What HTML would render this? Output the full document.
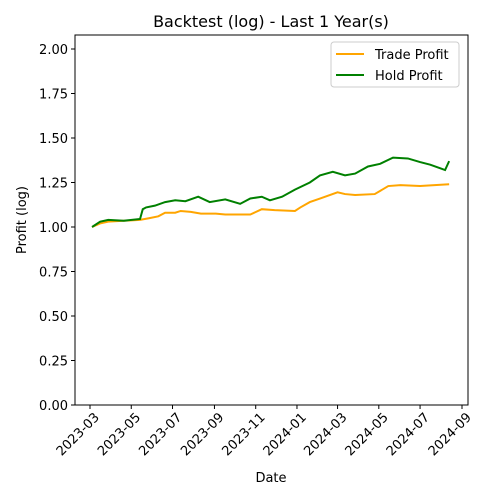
<!DOCTYPE html>
<html><head><meta charset="utf-8"><style>body{margin:0;background:#fff}svg{display:block;font-family:"DejaVu Sans","Liberation Sans",sans-serif}</style></head>
<body>
<svg id="chart" width="500" height="500"></svg>
<script>
const holdDates=["2023-03-04","2023-03-16","2023-03-28","2023-04-20","2023-05-14","2023-05-18","2023-05-23","2023-06-05","2023-06-20","2023-07-05","2023-07-20","2023-08-08","2023-08-25","2023-09-17","2023-10-09","2023-10-24","2023-11-10","2023-11-22","2023-12-10","2023-12-29","2024-01-20","2024-02-04","2024-02-23","2024-03-12","2024-03-27","2024-04-15","2024-05-03","2024-05-22","2024-06-13","2024-07-01","2024-07-16","2024-07-31","2024-08-07","2024-08-13"];
const holdVals=[1.00,1.03,1.04,1.035,1.045,1.10,1.11,1.12,1.14,1.15,1.145,1.17,1.14,1.155,1.13,1.16,1.17,1.15,1.17,1.21,1.25,1.29,1.31,1.29,1.30,1.34,1.355,1.39,1.385,1.365,1.35,1.33,1.32,1.37];
const tradeDates=["2023-03-04","2023-03-16","2023-03-28","2023-05-14","2023-05-28","2023-06-10","2023-06-20","2023-07-05","2023-07-13","2023-07-28","2023-08-12","2023-09-03","2023-09-17","2023-10-24","2023-11-10","2023-11-29","2023-12-29","2024-01-06","2024-01-20","2024-02-04","2024-03-01","2024-03-12","2024-03-27","2024-04-25","2024-05-15","2024-06-02","2024-07-01","2024-08-13"];
const tradeVals=[1.00,1.02,1.03,1.04,1.05,1.06,1.08,1.08,1.09,1.085,1.075,1.075,1.07,1.07,1.10,1.095,1.09,1.11,1.14,1.16,1.195,1.185,1.18,1.185,1.23,1.235,1.23,1.24];
const yTicks=[0,0.25,0.5,0.75,1.0,1.25,1.5,1.75,2.0];
const xTicks=["2023-03","2023-05","2023-07","2023-09","2023-11","2024-01","2024-03","2024-05","2024-07","2024-09"];
const NS="http://www.w3.org/2000/svg",svg=document.getElementById('chart');
const L=75,R=468,T=35,B=405;
const x0=Date.parse("2023-03-01"),x1=Date.parse("2024-09-01");
const X=d=>90+(Date.parse(d)-x0)/(x1-x0)*372;
const Y=v=>405-v*178;
function el(t,a,txt){const e=document.createElementNS(NS,t);for(const k in a)e.setAttribute(k,a[k]);if(txt!=null)e.textContent=txt;svg.appendChild(e);return e;}
let e=el('rect',{x:L,y:T,width:R-L,height:B-T,fill:'none',stroke:'#000','stroke-width':1});


yTicks.forEach(v=>{const y=Y(v);
 let t=el('line',{x1:L-4,x2:L,y1:y,y2:y,stroke:'#000'});
 
 
 let l=el('text',{x:L-7,y:y+5,'text-anchor':'end','font-size':13},v.toFixed(2));
 
 });
xTicks.forEach(s=>{const x=X(s+"-01");
 let t=el('line',{x1:x,x2:x,y1:B,y2:B+4,stroke:'#000'});
 
 
 const ax=x+10,ay=B+13;
 let l=el('text',{x:ax,y:ay,'text-anchor':'end','font-size':13,transform:`rotate(-45 ${ax} ${ay})`},s);
 
 });
function line(d,v,c,n){let p=el('polyline',{points:d.map((s,i)=>X(s)+','+Y(v[i])).join(' '),fill:'none',stroke:c,'stroke-width':2});
 
 }
line(tradeDates,tradeVals,'#ffa500','trade-profit-line');
line(holdDates,holdVals,'#008000','hold-profit-line');
e=el('text',{x:271,y:27,'text-anchor':'middle','font-size':16},'Backtest (log) - Last 1 Year(s)');


e=el('text',{x:271,y:482,'text-anchor':'middle','font-size':13},'Date');


e=el('text',{x:26,y:220,'text-anchor':'middle','font-size':13,transform:'rotate(-90 26 220)'},'Profit (log)');


e=el('rect',{x:331,y:42,width:128,height:45,rx:3,fill:'#fff',stroke:'#ccc'});


[['Trade Profit','#ffa500',54],['Hold Profit','#008000',75]].forEach(([n,c,y])=>{
 let s=el('line',{x1:336,x2:364,y1:y,y2:y,stroke:c,'stroke-width':2});
 
 
 let t=el('text',{x:375,y:y+5,'font-size':13},n);
 
 });
</script>
</body></html>
